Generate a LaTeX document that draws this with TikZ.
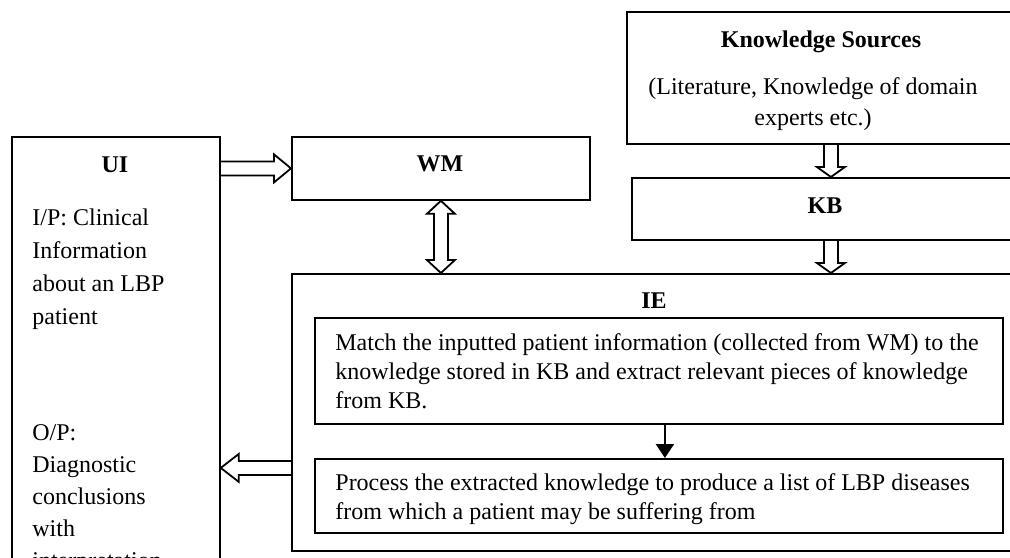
\documentclass[tikz,border=0pt]{standalone}
\usepackage{fontspec}
\setmainfont{Liberation Serif}
\usetikzlibrary{arrows.meta, positioning, calc}

\begin{document}
\begin{tikzpicture}[x=0.5pt, y=-0.5pt]
    % --- Style Definitions ---
    \tikzset{
        % Plain rectangular blocks
        block style/.style={
            draw=black,
            line width=0.9pt,
            inner sep=0pt
        },
        % Bold block titles
        title text/.style={
            font=\fontsize{12}{15}\selectfont\bfseries,
            inner sep=0pt
        },
        % Running text inside the blocks
        % (base anchor = baseline of the last line)
        body text/.style={
            font=\fontsize{12}{14.5}\selectfont,
            align=left,
            inner sep=0pt
        },
        % Length of the hollow heads
        arrow head len/.code={\def\headlen{#1}},
        arrow head len=8.5pt,
        % Hollow block arrow, one head
        hollow arrow/.style={
            draw=black,
            line width=0.9pt,
            to path={
                let \p1=(\tikztostart), \p2=(\tikztotarget),
                    \p3=($(\p2)!\headlen!(\p1)$) in
                ($(\p1)!3.5pt!90:(\p2)$) -- ($(\p3)!3.5pt!90:(\p2)$)
                -- ($(\p3)!7pt!90:(\p2)$) -- (\p2)
                -- ($(\p3)!7pt!-90:(\p2)$) -- ($(\p3)!3.5pt!-90:(\p2)$)
                -- ($(\p1)!3.5pt!-90:(\p2)$)
            }
        },
        % Hollow block arrow, two heads
        hollow double/.style={
            draw=black,
            line width=0.9pt,
            to path={
                let \p1=(\tikztostart), \p2=(\tikztotarget),
                    \p3=($(\p2)!\headlen!(\p1)$),
                    \p4=($(\p1)!\headlen!(\p2)$) in
                ($(\p4)!3.5pt!90:(\p2)$) -- ($(\p3)!3.5pt!90:(\p2)$)
                -- ($(\p3)!7pt!90:(\p2)$) -- (\p2)
                -- ($(\p3)!7pt!-90:(\p2)$) -- ($(\p3)!3.5pt!-90:(\p2)$)
                -- ($(\p4)!3.5pt!-90:(\p2)$) -- ($(\p4)!7pt!-90:(\p2)$)
                -- (\p1) -- ($(\p4)!7pt!90:(\p2)$) -- cycle
            }
        },
        % Thin arrow between the IE steps
        step arrow/.style={
            -{Triangle[length=7pt, width=9pt]},
            line width=1pt,
            black
        }
    }

    % --- 0. Page area (the picture is cut at its edges) ---
    \path[use as bounding box, fill=white] (0,0) rectangle (1010,557);

    % --- 1. Outer blocks ---
    \node[block style, anchor=north west, minimum width=104pt, minimum height=232pt] (ui) at (11,136) {};
    \node[block style, anchor=north west, minimum width=149pt, minimum height=31.5pt] (wm) at (291,136) {};
    \node[block style, anchor=north west, minimum width=195pt, minimum height=66pt] (ks) at (626,11) {};
    \node[block style, anchor=north west, minimum width=192.5pt, minimum height=31pt] (kb) at (631,177) {};
    \node[block style, anchor=north west, minimum width=362.5pt, minimum height=138.5pt] (ie) at (291,273) {};

    % --- 2. Steps inside IE ---
    \node[block style, anchor=north west, minimum width=344pt, minimum height=53pt] (match) at (314,317) {};
    \node[block style, anchor=north west, minimum width=344pt, minimum height=37pt] (process) at (314,458) {};

    % --- 3. Texts ---
    \node[title text, anchor=base] (ui title) at (115,172) {UI};
    \node[body text, font=\fontsize{12}{16.5}\selectfont, anchor=base west] (ui input) at (32,324)
        {I/P: Clinical\\Information\\about an LBP\\patient};
    \node[body text, font=\fontsize{12}{16}\selectfont, anchor=base west] (ui output) at (32,568)
        {O/P:\\Diagnostic\\conclusions\\with\\interpretation};
    \node[title text, anchor=base] (wm title) at (440,171) {WM};
    \node[title text, anchor=base] (ks title) at (821,47) {Knowledge Sources};
    \node[body text, font=\fontsize{12}{15.5}\selectfont, align=center, anchor=base] (ks sources) at (813,125)
        {(Literature, Knowledge of domain\\experts etc.)};
    \node[title text, anchor=base] (kb title) at (825,213) {KB};
    \node[title text, anchor=base] (ie title) at (654,308) {IE};
    \node[body text, anchor=base west] (match text) at (335,408)
        {Match the inputted patient information (collected from WM) to the\\
         knowledge stored in KB and extract relevant pieces of knowledge\\
         from KB.};
    \node[body text, anchor=base west] (process text) at (335,519)
        {Process the extracted knowledge to produce a list of LBP diseases\\
         from which a patient may be suffering from};

    % --- 4. Connectors ---
    \draw[hollow arrow, arrow head len=8.5pt] (ui.east |- wm.west) to (wm.west);
    \draw[hollow double, arrow head len=6.5pt] (wm.south) to (wm.south |- ie.north);
    \draw[hollow arrow, arrow head len=5pt] ([xshift=4.5pt]ks.south) to ([xshift=4.5pt]ks.south |- kb.north);
    \draw[hollow arrow, arrow head len=5pt] ([xshift=3.25pt]kb.south) to ([xshift=3.25pt]kb.south |- ie.north);
    \coordinate (ie out) at ([yshift=-27.75pt]ie.west);
    \draw[hollow arrow, arrow head len=9pt] (ie out) to (ie out -| ui.east);
    \draw[step arrow] ([xshift=3pt]match.south) -- ([xshift=3pt]match.south |- process.north);

\end{tikzpicture}
\end{document}
